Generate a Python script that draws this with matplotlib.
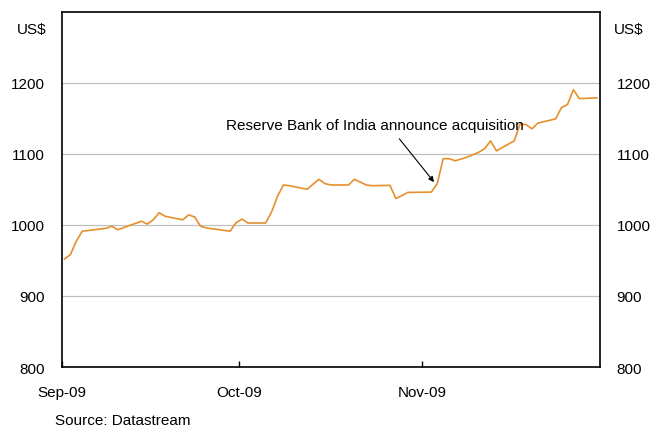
import matplotlib
matplotlib.use('Agg')
import matplotlib.pyplot as plt
import matplotlib.dates as mdates
import pandas as pd

# gold price, US$ per ounce (days counted from 1 Sep 2009)
days = [0, 1, 2, 3, 7, 8, 9, 11, 13, 14, 15, 16, 17, 20, 21, 22, 23, 24, 28, 29,
        30, 31, 34, 35, 36, 37, 38, 41, 42, 43, 44, 45, 48, 49, 51, 52, 55, 56, 57, 58,
        62, 63, 64, 65, 66, 68, 70, 71, 72, 73, 76, 77, 78, 79, 80, 83, 84, 85, 86, 87, 90]
price = [952, 958, 977, 991, 995, 998, 993, 999, 1005, 1001, 1007, 1017, 1012, 1007, 1014, 1011, 998, 995.5, 991, 1003,
         1008, 1002.5, 1002.5, 1018, 1040, 1056, 1055, 1050, 1057, 1064, 1058, 1056, 1056, 1064, 1056, 1055, 1055.5, 1037, 1041, 1045.5,
         1046, 1058, 1093, 1093, 1090, 1095, 1102, 1107, 1118, 1104, 1118, 1142, 1141, 1135, 1143, 1149, 1165, 1169, 1190, 1177.5, 1178.5]

start = pd.Timestamp('2009-09-01')
dates = [start + pd.Timedelta(days=d, hours=12) for d in days]

months = ['2009-09-01', '2009-10-01', '2009-11-01']
yticks = [800, 900, 1000, 1100, 1200]
note = 'Reserve Bank of India announce acquisition'

plt.rcParams['font.family'] = ['Liberation Sans', 'DejaVu Sans']

fig = plt.figure(figsize=(6.63, 4.27), dpi=100)
ax = fig.add_axes([61.5 / 663, 1 - 368 / 427, (600 - 61.5) / 663, (368 - 12.5) / 427])

ax.plot(dates, price, color='#E5902C', lw=1.2, zorder=3)

ax.set_xlim(start, pd.Timestamp('2009-12-01'))
ax.set_ylim(800, 1300)
ax.set_yticks(yticks)
for v in yticks[1:]:
    ax.axhline(v, color='#C0C0C0', lw=0.9, zorder=1)

ax.set_xticks([pd.Timestamp(m) for m in months])
ax.xaxis.set_major_formatter(mdates.DateFormatter('%b-%y'))
ax.tick_params(axis='x', direction='in', length=4, width=1, pad=13, labelsize=11)
ax.tick_params(axis='y', length=0, pad=12, labelsize=11, right=True, labelright=True)

for s in ax.spines.values():
    s.set_linewidth(1.2)
    s.set_color('black')

fig.text(46 / 663, 1 - 30 / 427, 'US$', ha='right', va='center', fontsize=11)
fig.text(614 / 663, 1 - 30 / 427, 'US$', ha='left', va='center', fontsize=11)

ax.text(start + pd.Timedelta(days=53), 1141, note, ha='center', va='center', fontsize=11)
ax.annotate('', xy=(start + pd.Timedelta(days=63, hours=6), 1057),
            xytext=(start + pd.Timedelta(days=56.8), 1124),
            arrowprops=dict(arrowstyle='-|>', color='black', lw=0.8, mutation_scale=8))

fig.text(55 / 663, 1 - 421 / 427, 'Source: Datastream', ha='left', va='center', fontsize=11)

fig.savefig('out.png', dpi=100)
